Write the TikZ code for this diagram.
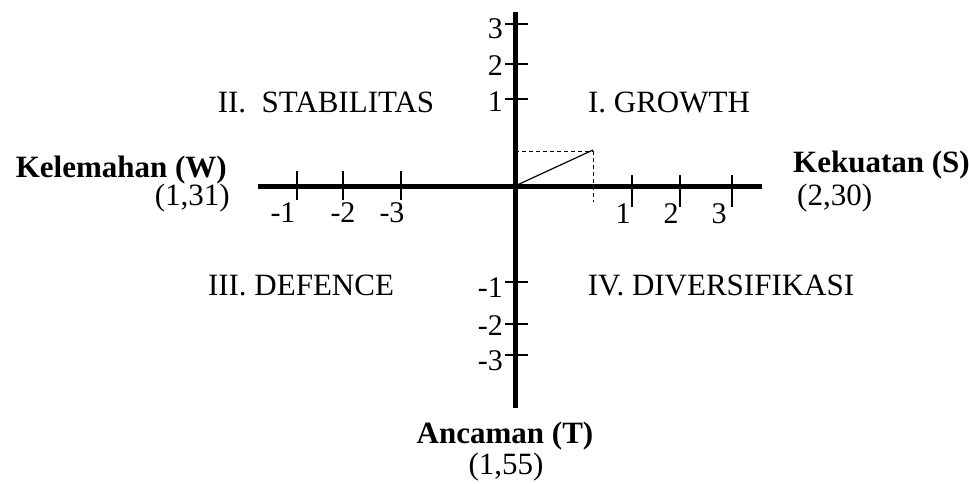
\documentclass[tikz,border=0pt]{standalone}
\usepackage{fontspec}
\setmainfont{Liberation Serif}
\begin{document}
\begin{tikzpicture}[x=1pt,y=-1pt,
  axisline/.style={line width=5pt},
  tickline/.style={line width=1.3pt},
  guide/.style={line width=1pt, dash pattern=on 4pt off 3pt},
  vec/.style={line width=1.2pt},
  big/.style={font=\fontsize{31}{35}\selectfont, inner sep=0pt},
  bigb/.style={font=\fontsize{31}{35}\selectfont\bfseries, inner sep=0pt},
  numlabel/.style={font=\fontsize{30}{34}\selectfont, inner sep=0pt}]
\useasboundingbox (0,0) rectangle (969,484);
% axes
\coordinate (O) at (515,186);
\coordinate (top) at (515,12);
\coordinate (bot) at (515,408);
\coordinate (lft) at (258,186);
\coordinate (rgt) at (762,186);
\draw[axisline] (top) -- (bot);
\draw[axisline] (lft) -- (rgt);
% vertical axis ticks
\foreach \y in {24,64,99,282,324,355}{
  \draw[tickline] (505,\y) -- (528,\y);
}
\node[numlabel,anchor=base east] (v3) at (503,39) {3};
\node[numlabel,anchor=base east] (v2) at (503,76) {2};
\node[numlabel,anchor=base east] (v1) at (503,112) {1};
\node[numlabel,anchor=base east] (vm1) at (503,297) {-1};
\node[numlabel,anchor=base east] (vm2) at (503,335) {-2};
\node[numlabel,anchor=base east] (vm3) at (503,370) {-3};
% horizontal axis ticks
\foreach \x in {297,343,401}{
  \draw[tickline] (\x,171) -- (\x,200);
}
\foreach \x in {632,680,732}{
  \draw[tickline] (\x,175) -- (\x,207);
}
\node[numlabel,anchor=base] (hm1) at (283,222) {-1};
\node[numlabel,anchor=base] (hm2) at (343,222) {-2};
\node[numlabel,anchor=base] (hm3) at (392,222) {-3};
\node[numlabel,anchor=base] (h1) at (623,223) {1};
\node[numlabel,anchor=base] (h2) at (671,223) {2};
\node[numlabel,anchor=base] (h3) at (719,223) {3};
% position vector
\coordinate (P) at (593,150);
\coordinate (Py) at (515,152);
\coordinate (Pc) at (593,152);
\coordinate (Px) at (593,202);
\draw[guide] (Py) -- (Pc) -- (Px);
\draw[vec] (O) -- (P);
% quadrant labels
\node[big,anchor=base] (q2) at (326,113) {II.\ \ STABILITAS};
\node[big,anchor=base] (q1) at (669,113) {I. GROWTH};
\node[big,anchor=base] (q3) at (301,295) {III. DEFENCE};
\node[big,anchor=base] (q4) at (721,295) {IV. DIVERSIFIKASI};
% axis titles
\node[bigb,anchor=base east] (W) at (227,177) {Kelemahan (W)};
\node[big,anchor=base east] (Wv) at (230,205) {(1,31)};
\node[bigb,anchor=base west] (S) at (793,172) {Kekuatan (S)};
\node[big,anchor=base west] (Sv) at (797,205) {(2,30)};
\node[bigb,anchor=base] (T) at (505,443) {Ancaman (T)};
\node[big,anchor=base] (Tv) at (506,474) {(1,55)};
\end{tikzpicture}
\end{document}
